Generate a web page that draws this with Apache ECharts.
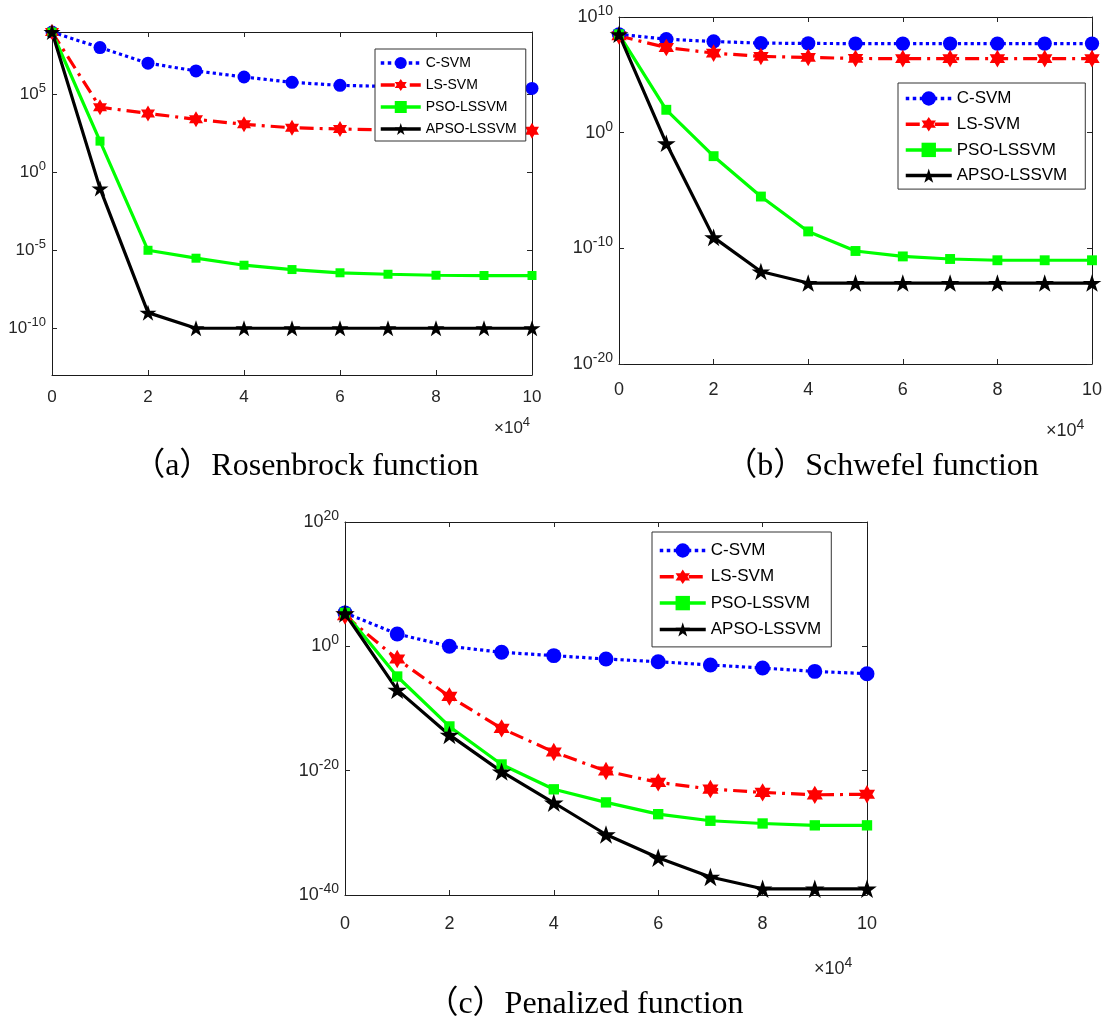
<!DOCTYPE html>
<html>
<head>
<meta charset="utf-8">
<script src="https://cdn.jsdelivr.net/npm/echarts@6/dist/echarts.min.js"></script>
<style>
  html, body { margin: 0; padding: 0; background: #fff; }
  #main { width: 1108px; height: 1023px; }
</style>
</head>
<body>
<div id="main"></div>
<script>
// iterations, in units of 1e4
var iters = [0, 1, 2, 3, 4, 5, 6, 7, 8, 9, 10];
var names = ['C-SVM', 'LS-SVM', 'PSO-LSSVM', 'APSO-LSSVM'];

// (a) Rosenbrock
var rosenC    = [1e9, 1e8, 1e7, 3.2e6, 1.3e6, 5.9e5, 3.8e5, 3.2e5, 2.8e5, 2.6e5, 2.4e5];
var rosenLS   = [1e9, 1.5e4, 6.0e3, 2.5e3, 1.2e3, 720, 600, 520, 500, 480, 470];
var rosenPSO  = [1e9, 1e2, 1e-5, 3.1e-6, 1.1e-6, 5.8e-7, 3.6e-7, 2.9e-7, 2.5e-7, 2.4e-7, 2.4e-7];
var rosenAPSO = [1e9, 9.3e-2, 1e-9, 1e-10, 1e-10, 1e-10, 1e-10, 1e-10, 1e-10, 1e-10, 1e-10];

// (b) Schwefel
var schwC    = [3.2e8, 1.2e8, 7.6e7, 5.5e7, 5.2e7, 5e7, 5e7, 5e7, 5e7, 5e7, 5e7];
var schwLS   = [2.3e8, 2.3e7, 7.6e6, 3.9e6, 3.2e6, 2.6e6, 2.5e6, 2.5e6, 2.5e6, 2.5e6, 2.5e6];
var schwPSO  = [3.2e8, 95, 9.3e-3, 3e-6, 2.9e-9, 5.9e-11, 2e-11, 1.2e-11, 9.3e-12, 9.3e-12, 9.3e-12];
var schwAPSO = [3.2e8, 0.12, 8.9e-10, 1e-12, 1e-13, 1e-13, 1e-13, 1e-13, 1e-13, 1e-13, 1e-13];

// (c) Penalized
var penC    = [2.4e5, 98, 1, 0.11, 3.2e-2, 9.1e-3, 3.4e-3, 1e-3, 3.2e-4, 9.3e-5, 4e-5];
var penLS   = [8.9e4, 9.1e-3, 8.7e-9, 6.3e-14, 1e-17, 8.9e-21, 1.3e-22, 1.1e-23, 3.2e-24, 1.3e-24, 1.6e-24];
var penPSO  = [2.4e5, 1.4e-5, 1.3e-13, 1e-19, 1e-23, 7.9e-26, 1e-27, 8.7e-29, 3.2e-29, 1.6e-29, 1.6e-29];
var penAPSO = [1.9e5, 1e-7, 5.6e-15, 6.9e-21, 6.9e-26, 5.4e-31, 1e-34, 7.9e-38, 1e-39, 1e-39, 1e-39];

// tick exponents
var yTicksA = [-10, -5, 0, 5];
var yTicksB = [-20, -10, 0, 10];
var yTicksC = [-40, -20, 0, 20];

var captions = ['（a）Rosenbrock function', '（b）Schwefel function', '（c）Penalized function'];

var STAR = 'path://M0,-100L22.45,-30.9L95.1,-30.9L36.3,11.8L58.8,80.9L0,38.2L-58.8,80.9L-36.3,11.8L-95.1,-30.9L-22.45,-30.9Z';
var HEXA = 'path://M0,-100L28.87,-50L86.6,-50L57.7,0L86.6,50L28.87,50L0,100L-28.87,50L-86.6,50L-57.7,0L-86.6,-50L-28.87,-50Z';

var txt = '#262626';
var sans = 'Liberation Sans, Arial, sans-serif';
var serif = 'Liberation Serif, Noto Sans CJK SC, serif';

var myChart = echarts.init(document.getElementById('main'));

var grids = [
  { left: 52, top: 32, width: 480, height: 343 },
  { left: 619, top: 17, width: 473, height: 347 },
  { left: 345, top: 522, width: 522, height: 373 }
];
var yRanges = [[-13, 9], [-20, 10], [-40, 20]];
var yTicks = [yTicksA, yTicksB, yTicksC];
var fs = [17, 18, 18];
var xMargin = [14, 17, 20];
var panelData = [
  [rosenC, rosenLS, rosenPSO, rosenAPSO],
  [schwC, schwLS, schwPSO, schwAPSO],
  [penC, penLS, penPSO, penAPSO]
];
var scale = [1, 1.1, 1.15];

function pairs(vals) {
  return vals.map(function (v, i) { return [iters[i], Math.log10(v)]; });
}

var frame = { show: true, onZero: false, lineStyle: { color: '#1a1a1a', width: 1 } };
var xAxes = [], yAxes = [], series = [];
grids.forEach(function (g, k) {
  var f = fs[k];
  xAxes.push({
    type: 'value', gridIndex: k, min: 0, max: 10, interval: 2, position: 'bottom',
    axisLine: frame,
    axisTick: { inside: true, length: 5, lineStyle: { color: txt } },
    axisLabel: { color: txt, fontFamily: sans, fontSize: f, margin: xMargin[k] },
    splitLine: { show: false }
  });
  xAxes.push({
    type: 'value', gridIndex: k, min: 0, max: 10, interval: 2, position: 'top',
    axisLine: frame,
    axisTick: { inside: true, length: 5, lineStyle: { color: txt } },
    axisLabel: { show: false }, splitLine: { show: false }
  });
  yAxes.push({
    type: 'value', gridIndex: k, min: yRanges[k][0], max: yRanges[k][1], position: 'left',
    axisLine: frame,
    axisTick: { show: true, inside: true, length: 5, customValues: yTicks[k], lineStyle: { color: txt } },
    axisLabel: {
      color: txt, fontFamily: sans, margin: 6, customValues: yTicks[k],
      formatter: function (v) { return '{b|10}{s|' + v + '}'; },
      rich: {
        b: { fontSize: f, fontFamily: sans, color: txt },
        s: { fontSize: f - 4, fontFamily: sans, color: txt, padding: [0, 0, 12, 0] }
      }
    },
    splitLine: { show: false }
  });
  yAxes.push({
    type: 'value', gridIndex: k, min: yRanges[k][0], max: yRanges[k][1], position: 'right',
    axisLine: frame,
    axisTick: { show: true, inside: true, length: 5, customValues: yTicks[k], lineStyle: { color: txt } },
    axisLabel: { show: false }, splitLine: { show: false }
  });

  var s = scale[k];
  var styles = [
    { color: '#0000ff', type: 'dotted', symbol: 'circle', size: 13 * s },
    { color: '#ff0000', type: [14, 6, 3, 6], symbol: HEXA, size: [14 * s, 16 * s] },
    { color: '#00ff00', type: 'solid', symbol: 'rect', size: 9 * s },
    { color: '#000000', type: 'solid', symbol: STAR, size: [17 * s, 16 * s] }
  ];
  panelData[k].forEach(function (vals, j) {
    var st = styles[j];
    series.push({
      name: names[j], type: 'line', xAxisIndex: 2 * k, yAxisIndex: 2 * k,
      data: pairs(vals), symbol: st.symbol, symbolSize: st.size, showSymbol: true,
      itemStyle: { color: st.color },
      lineStyle: { color: st.color, width: 3.2, type: st.type },
      animation: false, silent: true
    });
  });
});

var legends = [
  { left: 375, top: 49, itemWidth: 40, itemHeight: 15, itemGap: 8, padding: [7, 9, 5, 4], font: 14 },
  { left: 898, top: 83, itemWidth: 46, itemHeight: 18, itemGap: 8.7, padding: [7, 18, 5, 6], font: 17 },
  { left: 652, top: 532, itemWidth: 46, itemHeight: 18, itemGap: 9.3, padding: [10, 10, 9, 6], font: 17 }
].map(function (l) {
  return {
    orient: 'vertical', left: l.left, top: l.top, data: names,
    itemWidth: l.itemWidth, itemHeight: l.itemHeight, itemGap: l.itemGap, padding: l.padding,
    borderColor: '#333', borderWidth: 1, backgroundColor: '#fff',
    lineStyle: { width: 3.5 },
    textStyle: { fontFamily: sans, fontSize: l.font, color: '#000' },
    selectedMode: false
  };
});

function times(x, y, f) {
  return {
    type: 'text', left: x, top: y,
    style: {
      text: '{b|×10}{s|4}',
      rich: {
        b: { fontSize: f, fontFamily: sans, fill: txt },
        s: { fontSize: f - 4, fontFamily: sans, fill: txt, padding: [0, 0, 12, 0] }
      }
    }
  };
}
function caption(cx, y, t) {
  return {
    type: 'text', x: cx, y: y,
    style: { text: t, fontFamily: serif, fontSize: 32, fill: '#000', align: 'center', verticalAlign: 'middle' }
  };
}

var option = {
  backgroundColor: '#fff',
  animation: false,
  grid: grids,
  xAxis: xAxes,
  yAxis: yAxes,
  legend: legends,
  series: series,
  graphic: [
    times(494, 416, 17), times(1046, 418, 18), times(814, 956, 18),
    caption(306, 467, captions[0]), caption(882, 467, captions[1]), caption(585, 1005, captions[2])
  ]
};
myChart.setOption(option);
</script>
</body>
</html>
